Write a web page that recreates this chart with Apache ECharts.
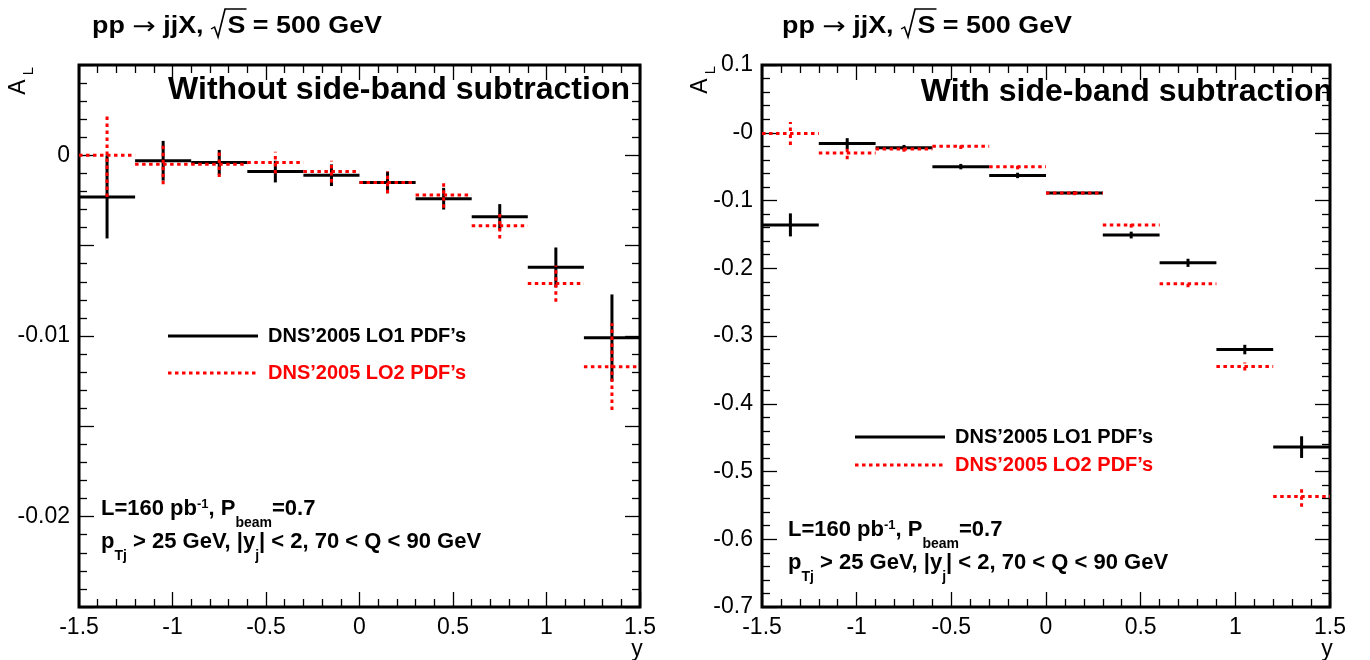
<!DOCTYPE html>
<html>
<head>
<meta charset="utf-8">
<script src="https://cdn.jsdelivr.net/npm/echarts@6/dist/echarts.min.js"></script>
<style>
html, body { margin: 0; background: #fff; }
#main { width: 1370px; height: 660px; }
</style>
</head>
<body>
<div id="main"></div>
<script>
var FONT = '"Liberation Sans", Arial, Helvetica, sans-serif';

// rapidity bins (centres), all 0.3 wide
var binCenters = [-1.35, -1.05, -0.75, -0.45, -0.15, 0.15, 0.45, 0.75, 1.05, 1.35];
var binHalfWidth = 0.15;

// left panel: without side-band subtraction
var leftLO1    = [-0.0023, -0.0003, -0.0004, -0.0009, -0.0011, -0.0015, -0.0024, -0.0034, -0.0062, -0.0101];
var leftLO1Err = [0.0023, 0.0011, 0.0007, 0.0006, 0.0006, 0.0006, 0.0006, 0.0007, 0.0011, 0.0024];
var leftLO2    = [0.0000, -0.0005, -0.0005, -0.0004, -0.0009, -0.0015, -0.0022, -0.0039, -0.0071, -0.0117];
var leftLO2Err = [0.0023, 0.0011, 0.0007, 0.0006, 0.0006, 0.0006, 0.0007, 0.0007, 0.0010, 0.0024];

// right panel: with side-band subtraction
var rightLO1    = [-0.136, -0.016, -0.022, -0.050, -0.063, -0.089, -0.151, -0.192, -0.320, -0.464];
var rightLO1Err = [0.017, 0.008, 0.004, 0.004, 0.004, 0.003, 0.005, 0.006, 0.007, 0.016];
var rightLO2    = [-0.001, -0.030, -0.024, -0.020, -0.050, -0.089, -0.136, -0.223, -0.345, -0.537];
var rightLO2Err = [0.017, 0.009, 0.004, 0.004, 0.004, 0.003, 0.004, 0.005, 0.006, 0.015];

var legendNames = ['DNS\u20192005 LO1 PDF\u2019s', 'DNS\u20192005 LO2 PDF\u2019s'];
var redDash = [3.5, 3.5];

function makeData(values, errs) {
    var out = [];
    for (var i = 0; i < binCenters.length; i++) {
        out.push([binCenters[i], values[i], errs[i]]);
    }
    return out;
}

function binSeries(name, axisIndex, values, errs, color, dash) {
    return {
        name: name,
        type: 'custom',
        xAxisIndex: axisIndex,
        yAxisIndex: axisIndex,
        data: makeData(values, errs),
        renderItem: function (params, api) {
            var x = api.value(0), y = api.value(1), e = api.value(2);
            var a = api.coord([x - binHalfWidth, y]);
            var b = api.coord([x + binHalfWidth, y]);
            var lo = api.coord([x, y - e]);
            var hi = api.coord([x, y + e]);
            var st = { stroke: color, lineWidth: 3, lineDash: dash, fill: null };
            return {
                type: 'group',
                children: [
                    { type: 'line', shape: { x1: a[0], y1: a[1], x2: b[0], y2: b[1] }, style: st },
                    { type: 'line', shape: { x1: lo[0], y1: lo[1], x2: hi[0], y2: hi[1] }, style: st }
                ]
            };
        }
    };
}

var tickStyle = { color: '#000', width: 1.3 };

function xAxisFor(gridIndex, position) {
    return {
        type: 'value', gridIndex: gridIndex, position: position,
        min: -1.5, max: 1.5, interval: 0.5,
        axisLine: { show: false, onZero: false },
        splitLine: { show: false },
        axisTick: { show: true, inside: true, length: 15, lineStyle: tickStyle },
        minorTick: { show: true, splitNumber: 5, length: 8, lineStyle: tickStyle },
        axisLabel: { show: position === 'bottom', color: '#000', fontSize: 23, fontFamily: FONT, margin: 9,
                     showMinLabel: true, showMaxLabel: true }
    };
}

function yAxisFor(gridIndex, position, min, max, interval, fmt) {
    return {
        type: 'value', gridIndex: gridIndex, position: position,
        min: min, max: max, interval: interval,
        axisLine: { show: false, onZero: false },
        splitLine: { show: false },
        axisTick: { show: true, inside: true, length: 15, lineStyle: tickStyle },
        minorTick: { show: true, splitNumber: 5, length: 8, lineStyle: tickStyle },
        axisLabel: { show: position === 'left', color: '#000', fontSize: 23, fontFamily: FONT, margin: 9,
                     showMinLabel: true, showMaxLabel: true, formatter: fmt }
    };
}

// left axis: labels only every 0.01
function leftFmt(v) {
    var k = Math.round(v / 0.005);
    if (k % 2 !== 0) return '';
    if (k === 0) return '0';
    return String(+v.toFixed(2));
}
// right axis: ROOT prints the zero as "-0"
function rightFmt(v) {
    if (Math.abs(v) < 1e-9) return '-0';
    return String(+v.toFixed(1));
}

var measureCtx = document.createElement('canvas').getContext('2d');
function measure(text, font) {
    measureCtx.font = font;
    return measureCtx.measureText(text).width;
}

// "pp -> jjX, sqrt(S) = 500 GeV", stretched to the reference width
function titleGraphics(x0, yc, targetWidth) {
    var bold = 'bold 23px ' + FONT;
    var sym = '24px "DejaVu Sans", sans-serif';
    var p1 = 'pp ', arrow = '\u2192', p2 = ' jjX, ', p3 = 'S = 500 GeV';
    var w1 = measure(p1, bold), wa = measure(arrow, sym), w2 = measure(p2, bold);
    var wr = 14, w3 = measure(p3, bold);
    var total = w1 + wa + w2 + wr + w3;
    var xr = w1 + wa + w2;
    var wS = measure('S', bold);
    var kids = [
        { type: 'text', x: 0, y: 0, style: { text: p1, font: bold, fill: '#000', verticalAlign: 'middle' } },
        { type: 'text', x: w1, y: 1, style: { text: arrow, font: sym, fill: '#000', verticalAlign: 'middle' } },
        { type: 'text', x: w1 + wa, y: 0, style: { text: p2, font: bold, fill: '#000', verticalAlign: 'middle' } },
        { type: 'polyline', shape: { points: [[xr, 2], [xr + 3, 0], [xr + 6, 10], [xr + 12, -18], [xr + wr + wS + 1, -18]] },
          style: { stroke: '#000', lineWidth: 1.4, fill: null } },
        { type: 'text', x: xr + wr, y: 0, style: { text: p3, font: bold, fill: '#000', verticalAlign: 'middle' } }
    ];
    return [{ type: 'group', x: x0, y: yc, scaleX: targetWidth / total, children: kids }];
}

function legendGraphics(x0, y1, y2) {
    var f = 'bold 20px ' + FONT;
    return [
        { type: 'line', shape: { x1: x0, y1: y1, x2: x0 + 90, y2: y1 }, style: { stroke: '#000', lineWidth: 3 } },
        { type: 'text', x: x0 + 100, y: y1, style: { text: legendNames[0], font: f, fill: '#000', verticalAlign: 'middle' } },
        { type: 'line', shape: { x1: x0, y1: y2, x2: x0 + 90, y2: y2 }, style: { stroke: '#f00', lineWidth: 3, lineDash: redDash } },
        { type: 'text', x: x0 + 100, y: y2, style: { text: legendNames[1], font: f, fill: '#f00', verticalAlign: 'middle' } }
    ];
}

var richCuts = {
    m: { fontSize: 22, fontWeight: 'bold', fontFamily: FONT, color: '#000', lineHeight: 42, verticalAlign: 'middle' },
    sup: { fontSize: 13, fontWeight: 'bold', fontFamily: FONT, color: '#000', verticalAlign: 'top', padding: [10, 0, 0, 0] },
    sub: { fontSize: 14, fontWeight: 'bold', fontFamily: FONT, color: '#000', verticalAlign: 'bottom', padding: [0, 0, 0, 0] }
};

function cutsGraphics(x0, y1, y2) {
    return [
        { type: 'text', x: x0, y: y1, style: { text: '{m|L=160 pb}{sup|-1}{m|, P}{sub|beam}{m|=0.7}', rich: richCuts, verticalAlign: 'middle' } },
        { type: 'text', x: x0, y: y2, style: { text: '{m|p}{sub|Tj}{m| > 25 GeV, |y}{sub|j}{m|| < 2, 70 < Q < 90 GeV}', rich: richCuts, verticalAlign: 'middle' } }
    ];
}

function axisNameGraphics(ax, ay, lx, ly, yx, yy) {
    return [
        { type: 'text', x: ax, y: ay, rotation: Math.PI / 2, style: { text: 'A', font: '23px ' + FONT, fill: '#000', align: 'center', verticalAlign: 'middle' } },
        { type: 'text', x: lx, y: ly, rotation: Math.PI / 2, style: { text: 'L', font: '15px ' + FONT, fill: '#000', align: 'center', verticalAlign: 'middle' } },
        { type: 'text', x: yx, y: yy, style: { text: 'y', font: '23px ' + FONT, fill: '#000', align: 'center', verticalAlign: 'middle' } }
    ];
}

var graphics = [].concat(
    titleGraphics(92, 27, 290),
    titleGraphics(782, 27, 290),
    [
        { type: 'text', x: 630, y: 90, style: { text: 'Without side-band subtraction', font: 'bold 32px ' + FONT, fill: '#000', align: 'right', verticalAlign: 'middle' } },
        { type: 'text', x: 1333, y: 92, style: { text: 'With side-band subtraction', font: 'bold 32px ' + FONT, fill: '#000', align: 'right', verticalAlign: 'middle' } }
    ],
    legendGraphics(168, 336, 373),
    legendGraphics(855, 437, 465),
    cutsGraphics(101, 509, 542),
    cutsGraphics(788, 530, 563),
    axisNameGraphics(19, 87, 29, 71, 637, 650),
    axisNameGraphics(701, 86, 711, 70, 1327, 650)
);

var myChart = echarts.init(document.getElementById('main'));

var option = {
    animation: false,
    backgroundColor: '#fff',
    grid: [
        { left: 79, top: 65, width: 561, height: 542, show: true, borderColor: '#000', borderWidth: 3 },
        { left: 762, top: 65, width: 568, height: 542, show: true, borderColor: '#000', borderWidth: 3 }
    ],
    xAxis: [
        xAxisFor(0, 'bottom'), xAxisFor(0, 'top'),
        xAxisFor(1, 'bottom'), xAxisFor(1, 'top')
    ],
    yAxis: [
        yAxisFor(0, 'left', -0.025, 0.005, 0.005, leftFmt), yAxisFor(0, 'right', -0.025, 0.005, 0.005, leftFmt),
        yAxisFor(1, 'left', -0.7, 0.1, 0.1, rightFmt), yAxisFor(1, 'right', -0.7, 0.1, 0.1, rightFmt)
    ],
    series: [
        binSeries(legendNames[0], 0, leftLO1, leftLO1Err, '#000', null),
        binSeries(legendNames[1], 0, leftLO2, leftLO2Err, '#f00', redDash),
        binSeries(legendNames[0], 2, rightLO1, rightLO1Err, '#000', null),
        binSeries(legendNames[1], 2, rightLO2, rightLO2Err, '#f00', redDash)
    ],
    graphic: graphics
};

myChart.setOption(option);
</script>
</body>
</html>
